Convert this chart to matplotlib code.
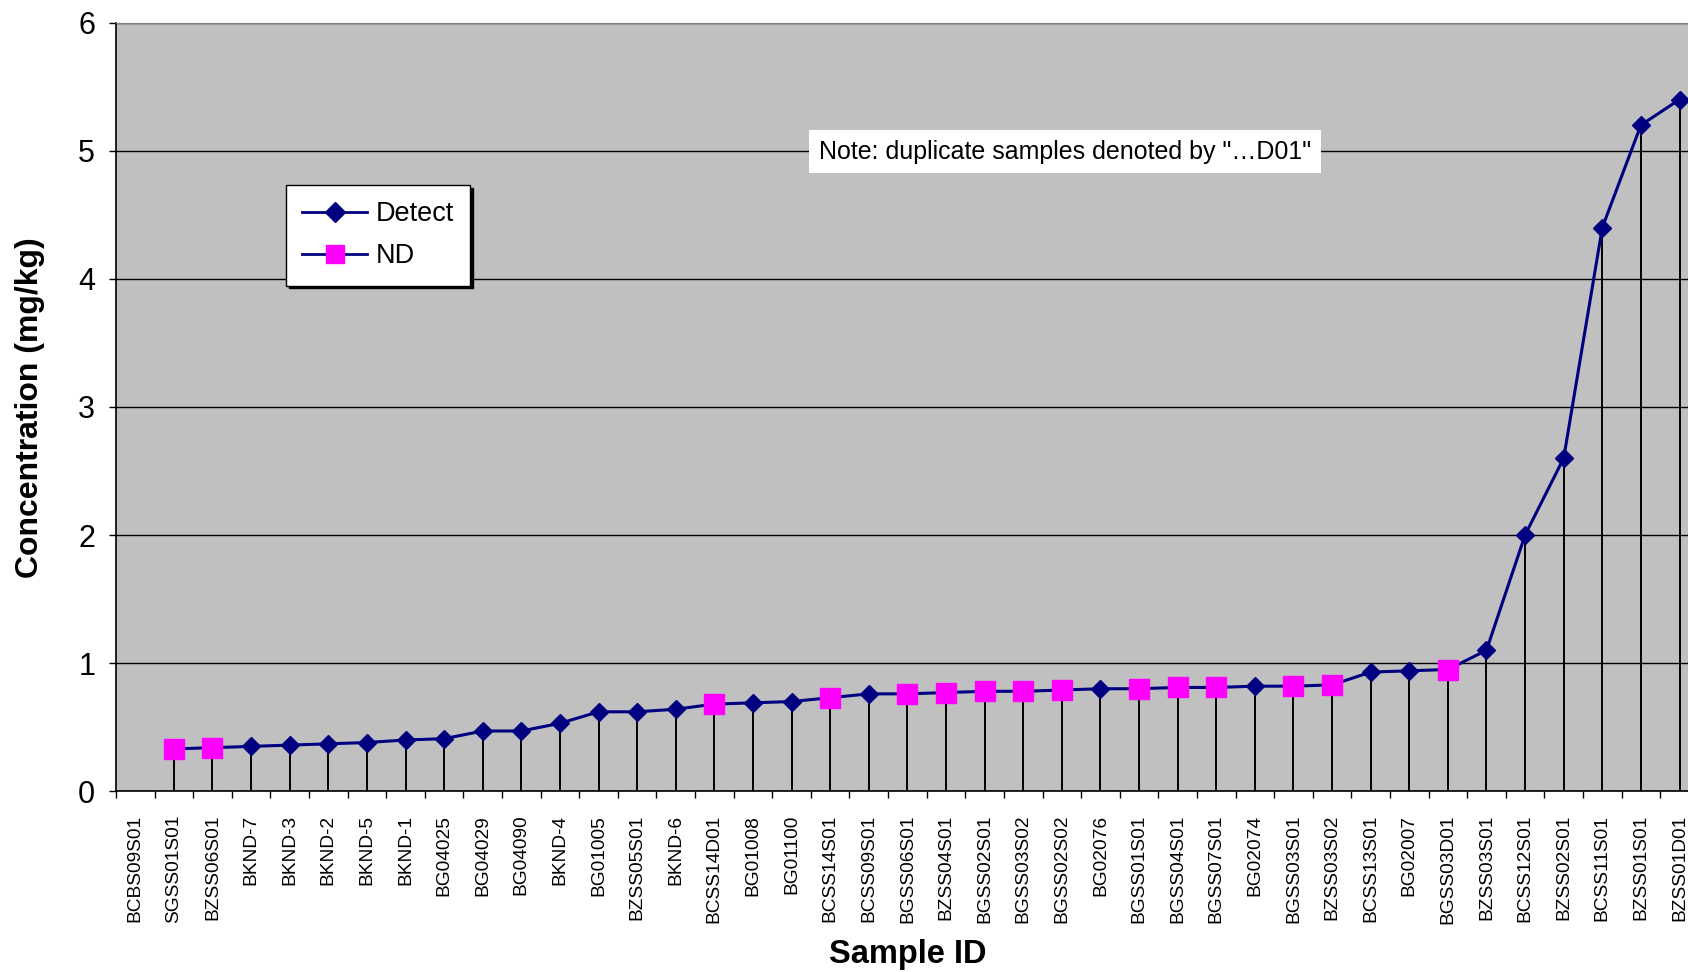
import matplotlib.pyplot as plt
from matplotlib.lines import Line2D
import numpy as np

plt.rcParams['font.family'] = ['Liberation Sans', 'DejaVu Sans']

# sample ids along the x axis
samples = ['BCBS09S01', 'SGSS01S01', 'BZSS06S01', 'BKND-7', 'BKND-3', 'BKND-2',
           'BKND-5', 'BKND-1', 'BG04025', 'BG04029', 'BG04090', 'BKND-4',
           'BG01005', 'BZSS05S01', 'BKND-6', 'BCSS14D01', 'BG01008', 'BG01100',
           'BCSS14S01', 'BCSS09S01', 'BGSS06S01', 'BZSS04S01', 'BGSS02S01',
           'BGSS03S02', 'BGSS02S02', 'BG02076', 'BGSS01S01', 'BGSS04S01',
           'BGSS07S01', 'BG02074', 'BGSS03S01', 'BZSS03S02', 'BCSS13S01',
           'BG02007', 'BGSS03D01', 'BZSS03S01', 'BCSS12S01', 'BZSS02S01',
           'BCSS11S01', 'BZSS01S01', 'BZSS01D01']

# concentration (mg/kg), first sample has no value
conc = [np.nan, 0.33, 0.34, 0.35, 0.36, 0.37, 0.38, 0.40, 0.41, 0.47, 0.47, 0.53,
        0.62, 0.62, 0.64, 0.68, 0.69, 0.70, 0.73, 0.76, 0.76, 0.77, 0.78,
        0.78, 0.79, 0.80, 0.80, 0.81, 0.81, 0.82, 0.82, 0.83, 0.93,
        0.94, 0.95, 1.10, 2.00, 2.60, 4.40, 5.20, 5.40]

# 1 = non detect, 0 = detect
nondetect = [0, 1, 1, 0, 0, 0, 0, 0, 0, 0, 0, 0,
             0, 0, 0, 1, 0, 0, 1, 0, 1, 1, 1,
             1, 1, 0, 1, 1, 1, 0, 1, 1, 0,
             0, 1, 0, 0, 0, 0, 0, 0]

x = np.arange(len(samples))
y = np.array(conc)
nd = np.array(nondetect, dtype=bool)
ok = ~np.isnan(y)

fig = plt.figure(figsize=(16.88, 9.72), dpi=100)
ax = fig.add_axes([0.0687, 0.186, 0.9377, 0.7907])
ax.set_facecolor('#C0C0C0')

# drop lines
ax.vlines(x[ok], 0, y[ok], color='black', lw=1.4, zorder=2)
ax.plot(x[ok], y[ok], color='#000080', lw=2.2, zorder=3)
ax.plot(x[ok & ~nd], y[ok & ~nd], ls='none', marker='D', ms=9.5,
        color='#000080', zorder=4)
ax.plot(x[ok & nd], y[ok & nd], ls='none', marker='s', ms=15,
        mfc='#FF00FF', mec='#FF00FF', zorder=4)

ax.set_xlim(-0.5, len(samples) - 0.5)
ax.set_ylim(0, 6)
ax.set_yticks(range(0, 7))
ax.yaxis.grid(True, color='black', lw=1)
ax.set_axisbelow(True)

ax.set_xticks(x, samples, rotation=90, fontsize=13.8, va='top', ha='center')
ax.set_xticks(np.arange(len(samples) + 1) - 0.5, minor=True)
ax.tick_params(axis='x', which='major', length=0, pad=17)
ax.tick_params(axis='x', which='minor', length=5, width=1, direction='out')
ax.tick_params(axis='y', labelsize=22, length=5, width=1, pad=10)

for s in ['top', 'right']:
    ax.spines[s].set_color('#808080')
ax.spines['left'].set_lw(1.2)
ax.spines['bottom'].set_lw(1.2)

fig.text(0.0175, 0.581, 'Concentration (mg/kg)', rotation=90, fontsize=23,
         fontweight='bold', ha='center', va='center')
fig.text(0.538, 0.018, 'Sample ID', fontsize=23.5, fontweight='bold',
         ha='center', va='center')

fig.text(0.631, 0.844, 'Note: duplicate samples denoted by "\u2026D01"',
         fontsize=18, ha='center', va='center',
         bbox=dict(facecolor='white', edgecolor='none', pad=7))

handles = [Line2D([], [], color='#000080', lw=2, marker='D', ms=10),
           Line2D([], [], color='#000080', lw=2, marker='s', ms=13,
                  mfc='#FF00FF', mec='#FF00FF')]
leg = ax.legend(handles, ['Detect', 'ND'], loc='upper left',
                bbox_to_anchor=(0.1694, 0.8097), bbox_transform=fig.transFigure,
                borderaxespad=0, fontsize=19.5, fancybox=False, framealpha=1,
                edgecolor='black', handlelength=2.4, labelspacing=0.6,
                borderpad=0.6, handletextpad=0.3,
                shadow={'color': 'black', 'alpha': 1})
leg.get_frame().set_linewidth(1)

fig.savefig('out.png', dpi=100)
